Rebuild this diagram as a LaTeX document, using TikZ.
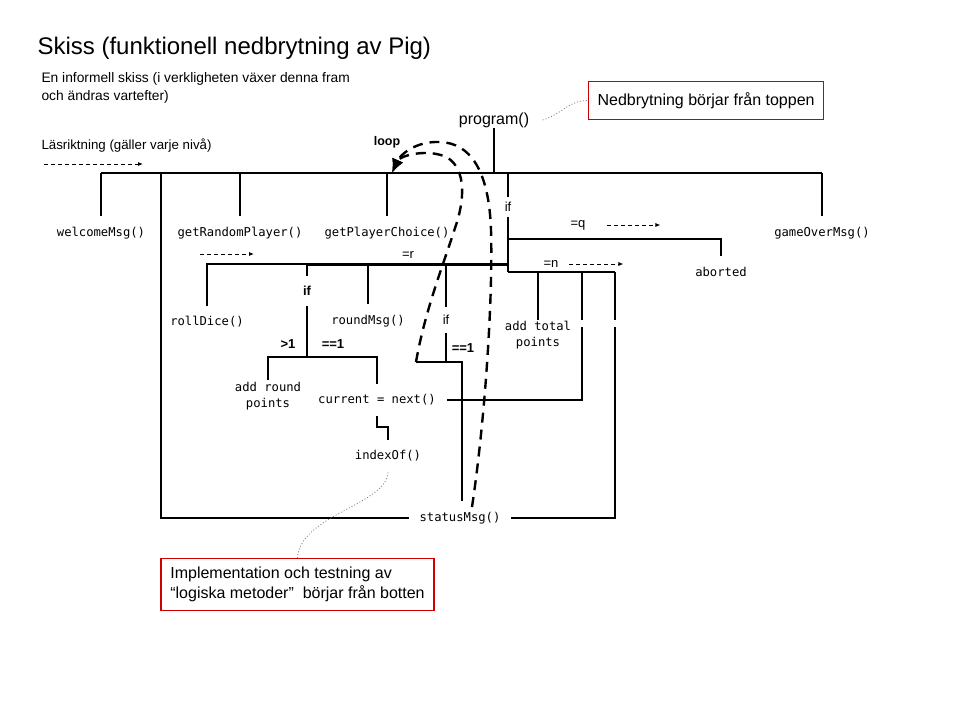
\documentclass[tikz,border=0pt]{standalone}
\usepackage{fontspec}
\setmainfont{Liberation Sans}
\newfontfamily\codefont{DejaVu Sans Mono}
\usetikzlibrary{positioning, arrows.meta}
\definecolor{notered}{HTML}{CC0000}

\begin{document}
\begin{tikzpicture}[x=1pt, y=-1pt, line width=1.05pt,
        every node/.style={align=center, inner sep=0pt},
        fn/.style={font=\codefont\fontsize{12.2}{16}\selectfont, outer sep=11pt},
        cond/.style={font=\fontsize{13}{16}\selectfont, outer sep=#1},
        cond/.default=6pt,
        bcond/.style={cond=#1, font=\bfseries\fontsize{13}{16}\selectfont},
        bcond/.default=6pt,
        note/.style={draw=notered, line width=1.2pt, font=\fontsize{16}{20}\selectfont},
        readarrow/.style={line width=0.8pt, dash pattern=on 4pt off 3pt, -{Latex[length=5pt,width=4pt]}},
        loopline/.style={line width=2.4pt, dash pattern=on 10pt off 7pt, -{Latex[length=14pt,width=12pt]}},
        hint/.style={gray, line width=0.8pt, dash pattern=on 1pt off 2pt}]

        \useasboundingbox (0,0) rectangle (960,720);

        % rubrik och förklaringar
        \node[anchor=west, font=\fontsize{24}{28}\selectfont] (title) at (37,48) {Skiss (funktionell nedbrytning av Pig)};
        \node[anchor=west, align=left, font=\fontsize{13.8}{18}\selectfont] (intro) at (41,88)
            {En informell skiss (i verkligheten växer denna fram\\och ändras vartefter)};
        \node[anchor=west, font=\fontsize{13.3}{16}\selectfont] (readdir) at (41,146) {Läsriktning (gäller varje nivå)};
        \node[font=\bfseries\fontsize{12.5}{15}\selectfont] (looplbl) at (387,142) {loop};

        % nivå 1
        \node[font=\fontsize{16}{19}\selectfont] (program) at (494,120) {program()};
        \node[fn] (welcome)  at (101,233) {welcomeMsg()};
        \node[fn] (random)   at (240,233) {getRandomPlayer()};
        \node[fn] (choice)   at (387,233) {getPlayerChoice()};
        \node[fn] (gameover) at (822,233) {gameOverMsg()};
        \node[cond=5pt] (ifq) at (508,207) {if};

        % nivå 2 och 3
        \node[cond] (eqq) at (578,225) {=q};
        \node[fn] (aborted) at (721,272) {aborted};
        \node[cond] (eqr) at (408,255) {=r};
        \node[cond] (eqn) at (551,264) {=n};
        \node[fn] (roll) at (207,322) {rollDice()};
        \node[bcond=10pt] (ifroll) at (307,291) {if};
        \node[bcond] (gt) at (288,344) {>1};
        \node[bcond] (eqone) at (333,344) {==1};
        \node[fn, outer sep=2pt] (addround) at (268,396) {add round\\points};
        \node[fn] (current) at (377,400) {current = next()};
        \node[fn] (roundmsg) at (368,321) {roundMsg()};
        \node[cond=8pt] (ifone) at (446,320) {if};
        \node[bcond] (eqonetwo) at (463,348) {==1};
        \node[fn, outer sep=1pt] (total) at (538,335) {add total\\points};
        \node[fn] (index) at (388,456) {indexOf()};
        \node[fn] (status) at (460,518) {statusMsg()};

        % nivå 1, linjer
        \coordinate (bar) at (101,173);
        \draw (program.south) -- (program.south |- bar);
        \draw (bar) -- (bar -| gameover);
        \foreach \n in {welcome, random, choice, gameover, ifq}
            \draw (bar -| \n.north) -- (\n.north);

        % loopens ram
        \coordinate (frame) at (161,173);
        \coordinate (gapA) at (582,327);
        \coordinate (gapB) at (615,327);
        \draw (frame) |- (status.west);
        \draw (status.east) -| (gapB);

        % if: =q, =r, =n
        \coordinate (qfork) at (508,239);
        \coordinate (rfork) at (508,264);
        \coordinate (nfork) at (508,272);
        \draw (ifq.south) -- (nfork);
        \draw (qfork) -| (aborted.north);
        \draw[line width=3pt] (rfork) -- (rfork -| ifroll);
        \draw (rfork -| ifroll) -| (roll.north);
        \foreach \n in {ifroll, roundmsg, ifone}
            \draw (rfork -| \n.north) -- (\n.north);
        \draw (nfork) -- (nfork -| gapB);
        \draw (nfork -| total.north) -- (total.north);
        \draw (nfork -| gapA) -- ([yshift=7pt]gapA);
        \draw (nfork -| gapB) -- ([yshift=7pt]gapB);
        \draw (current.east) -| (gapA);

        % if efter rollDice
        \coordinate (bfork) at (307,357);
        \draw (ifroll.south) -- (bfork);
        \draw (addround.north) |- (bfork) -| (current.north);
        \coordinate (jog) at (382,427);
        \draw (current.south) |- (jog) -| (index.north);

        % if ==1
        \coordinate (cfork) at (446,362);
        \coordinate (loopstart) at (416,362);
        \coordinate (onefork) at (462,362);
        \draw (ifone.south) -- (cfork);
        \draw (loopstart) -- (cfork) -| (status.north -| onefork);

        % läsriktning
        \coordinate (dirA) at (44,164);
        \coordinate (dirB) at (200,254);
        \draw[readarrow] (dirA) -- ++(99,0);
        \draw[readarrow] (dirB) -- ++(54,0);
        \draw[readarrow] ([xshift=16pt]eqq.east) -- ++(53,0);
        \draw[readarrow] ([xshift=5pt]eqn.east) -- ++(54,0);

        % loopen tillbaka
        \coordinate (loopback) at (472,507);
        \coordinate (looptip) at (392,173);
        \draw[loopline] (loopback) .. controls (485,420) and (493,300) .. (491,230)
            .. controls (489,170) and (470,143) .. (440,142)
            .. controls (415,141) and (400,155) .. (looptip);
        \draw[loopline] (loopstart) .. controls (425,310) and (445,260) .. (455,228)
            .. controls (465,200) and (466,170) .. (448,158)
            .. controls (430,148) and (400,155) .. (looptip);

        % anteckningar
        \node[note, anchor=west, minimum width=235pt, minimum height=37.5pt] (topnote) at (588,100.5)
            {Nedbrytning börjar från toppen};
        \node[note, anchor=north, minimum width=273pt, minimum height=52pt, align=left] (botnote) at (297.5,558)
            {Implementation och testning av\\“logiska metoder”\ \ börjar från botten};
        \draw[hint] ([xshift=13pt]program.east) .. controls +(20,-6) and +(-20,0) .. (topnote.west);
        \draw[hint] (index.south) .. controls (386,505) and (300,515) .. (botnote.north);
    \end{tikzpicture}
\end{document}
